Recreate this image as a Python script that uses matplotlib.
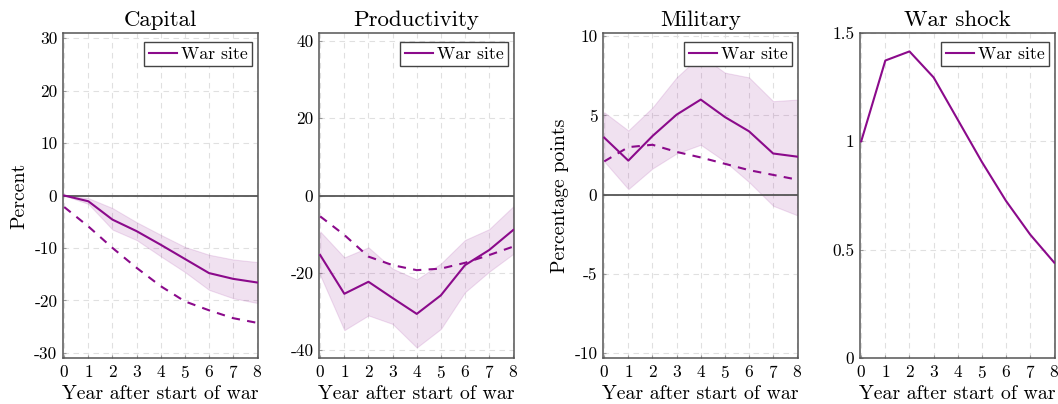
import matplotlib
matplotlib.use("Agg")
import matplotlib.pyplot as plt
import numpy as np

years = [0, 1, 2, 3, 4, 5, 6, 7, 8]

titles = ["Capital", "Productivity", "Military", "War shock"]
ylabels = ["Percent", "", "Percentage points", ""]

capital_mid = [0, -1.1, -4.6, -6.8, -9.4, -12.1, -14.8, -15.9, -16.6]
capital_hi = [0, -0.5, -2.4, -5.1, -7.5, -9.8, -11.3, -12.2, -12.7]
capital_lo = [0, -1.6, -6.5, -8.5, -11.6, -14.6, -18.0, -19.6, -20.5]
capital_model = [-2.2, -5.9, -10.0, -13.8, -17.3, -20.2, -21.9, -23.4, -24.3]

prod_mid = [-15.4, -25.4, -22.3, -26.5, -30.6, -25.8, -18.0, -14.1, -8.9]
prod_hi = [-9.3, -16.0, -13.4, -18.9, -21.7, -17.6, -11.5, -8.7, -2.8]
prod_lo = [-20.6, -34.8, -31.0, -33.2, -39.3, -34.5, -25.0, -19.7, -15.1]
prod_model = [-5.4, -10.2, -15.8, -18.0, -19.3, -18.9, -17.4, -15.4, -13.2]

mil_mid = [3.6, 2.15, 3.7, 5.05, 6.0, 4.9, 4.0, 2.6, 2.4]
mil_hi = [5.2, 4.05, 5.5, 7.4, 8.8, 7.7, 7.4, 5.9, 6.0]
mil_lo = [2.1, 0.35, 1.65, 2.6, 3.15, 2.1, 0.8, -0.7, -1.3]
mil_model = [2.1, 3.0, 3.15, 2.7, 2.35, 1.95, 1.55, 1.25, 0.95]

shock = [1.0, 1.373, 1.415, 1.295, 1.10, 0.905, 0.725, 0.57, 0.44]

ylims = [(-31, 31), (-42, 42), (-10.3, 10.2), (0, 1.5)]
yticks = [[-30, -20, -10, 0, 10, 20, 30], [-40, -20, 0, 20, 40],
          [-10, -5, 0, 5, 10], [0, 0.5, 1, 1.5]]
yticklabels = [["-30", "-20", "-10", "0", "10", "20", "30"],
               ["-40", "-20", "0", "20", "40"],
               ["-10", "-5", "0", "5", "10"],
               ["0", "0.5", "1", "1.5"]]

plt.rcParams['font.family'] = 'serif'
plt.rcParams['font.serif'] = ['cmr10', 'DejaVu Serif']
plt.rcParams['mathtext.fontset'] = 'cm'
plt.rcParams['axes.unicode_minus'] = False
plt.rcParams['axes.formatter.use_mathtext'] = True

purple = '#8B0A8B'
fig = plt.figure(figsize=(10.58, 4.04), dpi=100)
lefts = [63, 319, 603, 860]
width = 195
top, bottom = 33, 358
H = 404.0
W = 1058.0

series = [
    (capital_mid, capital_lo, capital_hi, capital_model),
    (prod_mid, prod_lo, prod_hi, prod_model),
    (mil_mid, mil_lo, mil_hi, mil_model),
    (shock, None, None, None),
]

for i in range(4):
    ax = fig.add_axes([lefts[i] / W, 1 - bottom / H, width / W, (bottom - top) / H])
    mid, lo, hi, model = series[i]
    if lo is not None:
        ax.fill_between(years, lo, hi, color=purple, alpha=0.12, linewidth=0.8, edgecolor=(0.55, 0.04, 0.55, 0.08))
        ax.axhline(0, color='#555555', lw=1.3, zorder=2)
        ax.plot(years, model, color=purple, lw=1.5, ls=(0, (4, 3.5)), zorder=3)
    ax.plot(years, mid, color=purple, lw=1.5, zorder=4, label="War site")
    ax.set_xlim(-0.05, 8.03)
    ax.set_ylim(*ylims[i])
    ax.set_xticks(years)
    ax.set_yticks(yticks[i])
    ax.set_yticklabels(yticklabels[i])
    ax.grid(True, color='#e0e0e0', ls=(0, (5, 4)), lw=0.8)
    ax.set_axisbelow(True)
    ax.tick_params(direction='in', length=2.5, color='#999999', labelsize=12.5, pad=4)
    for s in ax.spines.values():
        s.set_color('#555555')
        s.set_linewidth(1.1)
    ax.set_title(titles[i], fontsize=16.5, pad=5)
    ax.set_xlabel("Year after start of war", fontsize=14.3, labelpad=3)
    if ylabels[i]:
        ax.set_ylabel(ylabels[i], fontsize=14.3, labelpad=4)
    leg = ax.legend(loc='upper right', bbox_to_anchor=(1 - 6 / 195, 1 - 9 / 325),
                    fontsize=12.8, frameon=True, fancybox=False,
                    handlelength=1.6, handletextpad=0.2, borderpad=0.25,
                    borderaxespad=0.0)
    leg.get_frame().set_edgecolor('#444444')
    leg.get_frame().set_linewidth(1.0)
    leg.get_frame().set_alpha(1)

fig.savefig("out.png", dpi=100)
